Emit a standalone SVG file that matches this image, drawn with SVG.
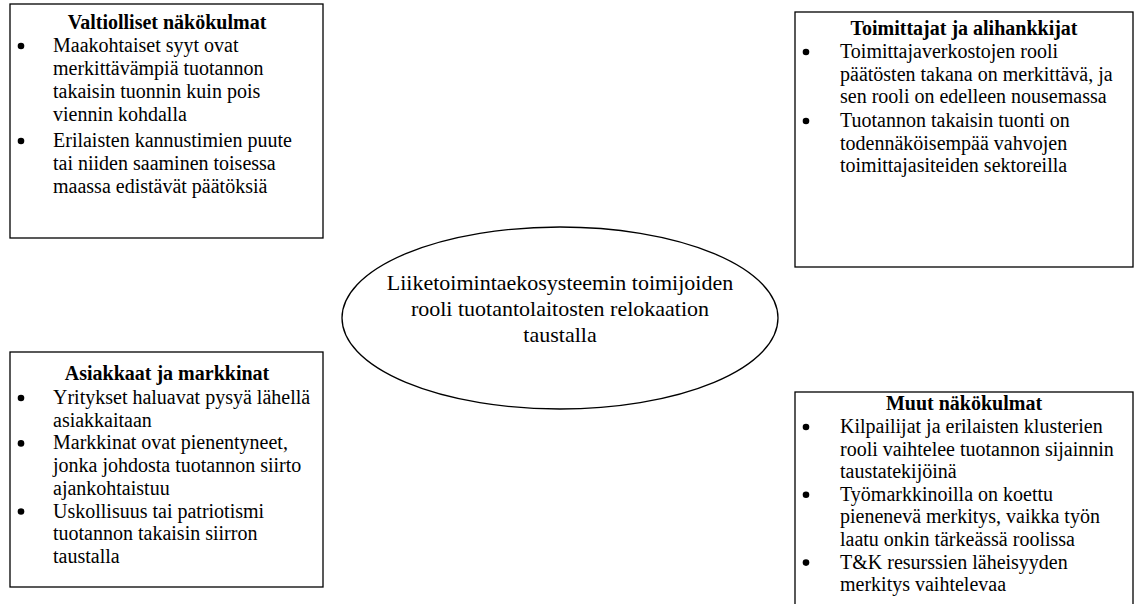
<svg xmlns="http://www.w3.org/2000/svg" width="1134" height="604" viewBox="0 0 1134 604">
<style>
.box{fill:#fff;stroke:#000;stroke-width:1.3}
.t{font-family:"Liberation Serif","Times New Roman",serif;font-size:20px;fill:#000}
.h{font-family:"Liberation Serif","Times New Roman",serif;font-size:20px;font-weight:bold;fill:#000;text-anchor:middle}
.c{font-family:"Liberation Serif","Times New Roman",serif;font-size:22px;fill:#000;text-anchor:middle}
.b{fill:#000}
</style>
<rect width="1134" height="604" fill="#fff"/>
<g id="connectors"></g>
<g id="valtiolliset">
<rect class="box" x="10" y="4" width="313" height="234"/>
<text class="h" x="167" y="29">Valtiolliset näkökulmat</text>
<circle class="b" cx="21" cy="46" r="3.3"/>
<text class="t" x="53" y="52">Maakohtaiset syyt ovat</text>
<text class="t" x="53" y="75">merkittävämpiä tuotannon</text>
<text class="t" x="53" y="98">takaisin tuonnin kuin pois</text>
<text class="t" x="53" y="121">viennin kohdalla</text>
<circle class="b" cx="21" cy="141" r="3.3"/>
<text class="t" x="53" y="147">Erilaisten kannustimien puute</text>
<text class="t" x="53" y="170">tai niiden saaminen toisessa</text>
<text class="t" x="53" y="193">maassa edistävät päätöksiä</text>
</g>
<g id="toimittajat">
<rect class="box" x="795" y="12" width="338" height="255"/>
<text class="h" x="964" y="35">Toimittajat ja alihankkijat</text>
<circle class="b" cx="806" cy="52" r="3.3"/>
<text class="t" x="840" y="58">Toimittajaverkostojen rooli</text>
<text class="t" x="840" y="80.7">päätösten takana on merkittävä, ja</text>
<text class="t" x="840" y="103.4">sen rooli on edelleen nousemassa</text>
<circle class="b" cx="806" cy="121" r="3.3"/>
<text class="t" x="840" y="127">Tuotannon takaisin tuonti on</text>
<text class="t" x="840" y="149.7">todennäköisempää vahvojen</text>
<text class="t" x="840" y="172.4">toimittajasiteiden sektoreilla</text>
</g>
<g id="keskus">
<ellipse class="box" cx="560" cy="318" rx="218" ry="91"/>
<text class="c" x="560" y="290">Liiketoimintaekosysteemin toimijoiden</text>
<text class="c" x="560" y="316">rooli tuotantolaitosten relokaation</text>
<text class="c" x="560" y="342">taustalla</text>
</g>
<g id="asiakkaat">
<rect class="box" x="10" y="352" width="313" height="235"/>
<text class="h" x="167" y="380">Asiakkaat ja markkinat</text>
<circle class="b" cx="21" cy="398" r="3.3"/>
<text class="t" x="53" y="404">Yritykset haluavat pysyä lähellä</text>
<text class="t" x="53" y="426.7">asiakkaitaan</text>
<circle class="b" cx="21" cy="443.4" r="3.3"/>
<text class="t" x="53" y="449.4">Markkinat ovat pienentyneet,</text>
<text class="t" x="53" y="472.1">jonka johdosta tuotannon siirto</text>
<text class="t" x="53" y="494.8">ajankohtaistuu</text>
<circle class="b" cx="21" cy="511.5" r="3.3"/>
<text class="t" x="53" y="517.5">Uskollisuus tai patriotismi</text>
<text class="t" x="53" y="540.2">tuotannon takaisin siirron</text>
<text class="t" x="53" y="562.9">taustalla</text>
</g>
<g id="muut">
<rect class="box" x="795" y="392" width="338" height="230"/>
<text class="h" x="964" y="410">Muut näkökulmat</text>
<circle class="b" cx="806" cy="427" r="3.3"/>
<text class="t" x="840" y="433">Kilpailijat ja erilaisten klusterien</text>
<text class="t" x="840" y="455.6">rooli vaihtelee tuotannon sijainnin</text>
<text class="t" x="840" y="478.2">taustatekijöinä</text>
<circle class="b" cx="806" cy="494.8" r="3.3"/>
<text class="t" x="840" y="500.8">Työmarkkinoilla on koettu</text>
<text class="t" x="840" y="523.4">pienenevä merkitys, vaikka työn</text>
<text class="t" x="840" y="546">laatu onkin tärkeässä roolissa</text>
<circle class="b" cx="806" cy="562.6" r="3.3"/>
<text class="t" x="840" y="568.6">T&amp;K resurssien läheisyyden</text>
<text class="t" x="840" y="591.2">merkitys vaihtelevaa</text>
</g>
</svg>
